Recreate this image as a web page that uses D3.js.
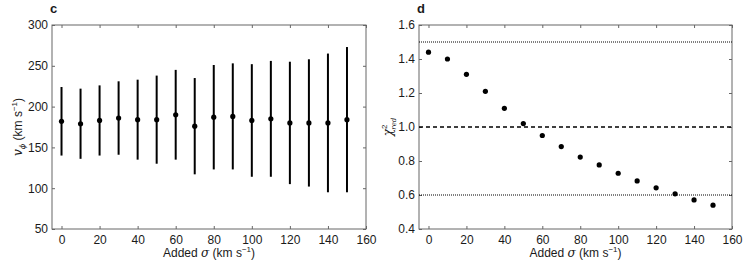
<!DOCTYPE html>
<html>
<head>
<meta charset="utf-8">
<script src="https://cdn.jsdelivr.net/npm/d3@7"></script>
<style>
  body { margin: 0; background: #fff; }
  text { font-family: "Liberation Sans", Arial, sans-serif; fill: #1a1a1a; }
</style>
</head>
<body>
<svg id="chart" width="747" height="264"></svg>
<script>
// added dispersion, km/s
const sigma = [0, 10, 20, 30, 40, 50, 60, 70, 80, 90, 100, 110, 120, 130, 140, 150]
// panel c: v_phi with error bar ends
const vphi = [182, 179, 183, 186, 184, 184, 190, 176, 187, 188, 183, 185, 180, 180, 180, 184]
const vphiHi = [224, 222, 226, 231, 233, 238, 245, 235, 251, 253, 252, 256, 255, 258, 265, 273]
const vphiLo = [140, 136, 140, 141, 135, 130, 135, 117, 123, 123, 114, 114, 105, 102, 95, 95]
// panel d: reduced chi square
const chi2 = [1.44, 1.40, 1.31, 1.21, 1.11, 1.02, 0.95, 0.885, 0.823, 0.777, 0.728, 0.683, 0.642, 0.607, 0.571, 0.54]
const refLines = [{v: 1.5, dash: '1,1'}, {v: 1.0, dash: '4,3'}, {v: 0.6, dash: '1,1'}]

const xTicks = [0, 20, 40, 60, 80, 100, 120, 140, 160]
const yTicksC = [50, 100, 150, 200, 250, 300]
const yTicksD = [0.4, 0.6, 0.8, 1.0, 1.2, 1.4, 1.6]

const svg = d3.select('#chart')
const plotTop = 25, plotBottom = 229

function panel(left, right, yDomain, yTicks, fmt, letter) {
  const x = d3.scaleLinear().domain([-5, 160]).range([left, right])
  const y = d3.scaleLinear().domain(yDomain).range([plotBottom, plotTop])
  const g = svg.append('g')

  // inward ticks on all sides, labels only bottom/left
  const tl = 3
  g.append('g').attr('transform', `translate(0,${plotBottom})`)
    .call(d3.axisBottom(x).tickValues(xTicks).tickSizeInner(-tl).tickSizeOuter(0).tickPadding(6))
  g.append('g').attr('transform', `translate(0,${plotTop})`)
    .call(d3.axisTop(x).tickValues(xTicks).tickSizeInner(-tl).tickSizeOuter(0).tickFormat(''))
  g.append('g').attr('transform', `translate(${left},0)`)
    .call(d3.axisLeft(y).tickValues(yTicks).tickSizeInner(-tl).tickSizeOuter(0).tickPadding(4).tickFormat(fmt))
  g.append('g').attr('transform', `translate(${right},0)`)
    .call(d3.axisRight(y).tickValues(yTicks).tickSizeInner(-tl).tickSizeOuter(0).tickFormat(''))

  g.selectAll('.domain').remove()
  g.selectAll('.tick line').attr('stroke', '#666')
  g.selectAll('.tick text').style('font-size', '12px').attr('fill', '#1a1a1a')

  g.append('rect')
    .attr('x', left).attr('y', plotTop)
    .attr('width', right - left).attr('height', plotBottom - plotTop)
    .attr('fill', 'none').attr('stroke', '#666').attr('stroke-width', 1)

  g.append('text').attr('x', left - 2).attr('y', 13)
    .style('font-size', '13px').style('font-weight', 'bold').text(letter)

  g.append('text')
    .attr('x', (left + right) / 2).attr('y', 257)
    .attr('text-anchor', 'middle').style('font-size', '12px')
    .html('Added <tspan font-family="DejaVu Serif" font-style="italic">σ</tspan> (km s<tspan dy="-5" font-size="8px">−1</tspan><tspan dy="5">)</tspan>')

  return {x, y, g}
}

// panel c
const c = panel(52, 366, [50, 300], yTicksC, d3.format('d'), 'c')
c.g.selectAll('.err').data(sigma).join('line')
  .attr('x1', d => c.x(d)).attr('x2', d => c.x(d))
  .attr('y1', (d, i) => c.y(vphiLo[i])).attr('y2', (d, i) => c.y(vphiHi[i]))
  .attr('stroke', '#000').attr('stroke-width', 2)
c.g.selectAll('.pt').data(sigma).join('circle')
  .attr('cx', d => c.x(d)).attr('cy', (d, i) => c.y(vphi[i]))
  .attr('r', 2.6).attr('fill', '#000')
c.g.append('text')
  .attr('transform', `translate(22,${(plotTop + plotBottom) / 2}) rotate(-90)`)
  .attr('text-anchor', 'middle').style('font-size', '12px')
  .html('<tspan font-family="DejaVu Serif" font-style="italic">v</tspan><tspan dy="3" font-size="8px" font-family="DejaVu Serif" font-style="italic">ϕ</tspan><tspan dy="-3"> (km s</tspan><tspan dy="-5" font-size="8px">−1</tspan><tspan dy="5">)</tspan>')

// panel d
const d = panel(419, 732, [0.4, 1.6], yTicksD, d3.format('.1f'), 'd')
d.g.selectAll('.ref').data(refLines).join('line')
  .attr('x1', 419).attr('x2', 732)
  .attr('y1', r => d.y(r.v)).attr('y2', r => d.y(r.v))
  .attr('stroke', '#000')
  .attr('stroke-width', r => r.v === 1.0 ? 1.6 : 1)
  .attr('stroke-dasharray', r => r.dash)
d.g.selectAll('.pt').data(sigma).join('circle')
  .attr('cx', s => d.x(s)).attr('cy', (s, i) => d.y(chi2[i]))
  .attr('r', 2.6).attr('fill', '#000')
d.g.append('text')
  .attr('transform', `translate(392,${(plotTop + plotBottom) / 2}) rotate(-90)`)
  .attr('text-anchor', 'middle').style('font-size', '12px')
  .html('<tspan font-family="DejaVu Serif" font-style="italic">χ</tspan><tspan dy="-5" font-size="8px">2</tspan><tspan dx="-5" dy="9" font-size="7px" font-family="DejaVu Serif" font-style="italic">red</tspan>')
</script>
</body>
</html>
